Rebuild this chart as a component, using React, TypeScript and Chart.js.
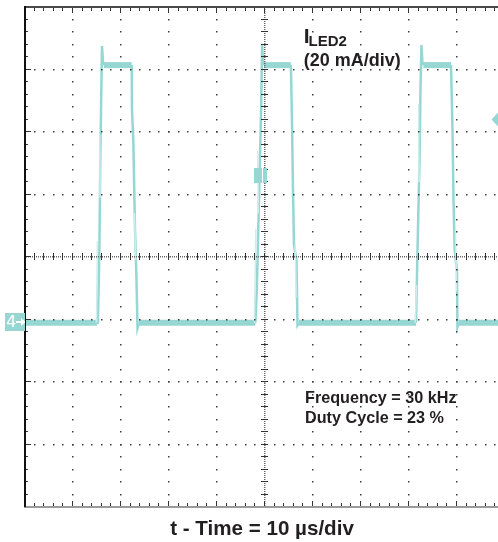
import React, { useEffect, useRef } from "react";
import { Chart, registerables } from "chart.js";
Chart.register(...registerables);

// Axes: 10 µs/div horizontally, 20 mA/div vertically (ground = 0 mA at marker "4")
const X_MIN = 0;
const X_MAX = 100;
const X_DIV = 10;
const Y_MIN = -59;
const Y_MAX = 101;
const Y_DIV = 20;
const TRIGGER_LEVEL_MA = 65;

// I_LED2 trace
const TIME_US = [
  0, 15.2, 15.4, 15.7, 15.9, 16.1, 16.25, 16.46, 16.67, 22.44,
  22.5, 22.77, 23.13, 23.44, 23.65, 23.96,
  48.2, 48.5, 48.96, 49.4, 49.6, 49.8, 50.0, 55.6,
  55.83, 56.04, 56.25, 56.77, 56.98, 57.29,
  81.67, 81.98, 82.4, 82.6, 82.8, 83.0, 83.2, 88.96,
  89.27, 89.48, 89.73, 90.2, 90.3, 90.6, 100,
];
const CURRENT_MA = [
  0, 0, 0, 23, 52, 74, 88.5, 83.4, 82.4, 82.4,
  68, 58.4, 29.6, 13.6, -1.7, 0,
  0, 10.4, 39.2, 68, 88.8, 83.4, 82.4, 82.4,
  64.8, 42.4, 24.8, 20, -0.8, 0,
  0, 23.2, 52, 74.4, 88.8, 83.4, 82.4, 82.4,
  61.6, 39.2, 23.2, 16.8, -1.4, 0, 0,
];

// faint persistence copies of the edges (µs, mA); null breaks the line
const GHOST_TIME_US = [15.1, 15.3, null, 15.8, 15.85, null, 48.0, 48.3, null, 48.7, 48.8, null, 81.5, 81.8, null, 82.2, 82.3, null, 23.0, 23.3, null, 56.5, 56.7, null, 89.9, 90.1];
const GHOST_CURRENT_MA = [0, 26, null, 60, 40, null, 0, 30, null, 55, 35, null, 0, 12, null, 70, 45, null, 35, 20, null, 25, 8, null, 30, 10];

const TRACE = "#96d6d3";
const GHOST = "#cdeeed";
const TEXT = "#231f20";

const scopeGrid = {
  id: "scopeGrid",
  afterDatasetsDraw(chart: any) {
    const { ctx, chartArea: a, scales } = chart;
    const xs = scales.x;
    const ys = scales.y;
    const xMaj: number[] = [];
    for (let v = X_MIN; v <= X_MAX + 1e-6; v += X_DIV) xMaj.push(xs.getPixelForValue(v));
    const yMaj: number[] = [];
    for (let v = Y_MAX; v >= Y_MIN - 1e-6; v -= Y_DIV) yMaj.push(ys.getPixelForValue(v));
    const nx = xMaj.length - 1;
    const ny = yMaj.length - 1;
    const dx = (xMaj[1] - xMaj[0]) / 5;
    const dy = (yMaj[1] - yMaj[0]) / 5;
    const cx = xMaj[nx / 2];
    const cy = yMaj[ny / 2];
    ctx.save();
    // dotted major lines
    ctx.fillStyle = "#3c3c3c";
    for (let i = 1; i < nx; i++) {
      if (i === nx / 2) continue;
      for (let k = 1; k < ny * 5; k++) ctx.fillRect(Math.round(xMaj[i]), Math.round(a.top + k * dy) - 1, 1.5, 1.5);
    }
    for (let j = 1; j < ny; j++) {
      if (j === ny / 2) continue;
      for (let k = 1; k < nx * 5; k++) ctx.fillRect(Math.round(a.left + k * dx), Math.round(yMaj[j]) - 1, 1.5, 1.5);
    }
    // centre lines
    ctx.fillStyle = "#666";
    for (let x = a.left; x < a.right; x += 2) ctx.fillRect(x, Math.round(cy) - 1, 1, 1.5);
    for (let y = a.top; y < a.bottom; y += 2) ctx.fillRect(Math.round(cx), y, 1.5, 1);
    ctx.fillStyle = "#333";
    for (let k = 1; k < nx * 5; k++) {
      const x = Math.round(a.left + k * dx);
      const major = k % 5 === 0;
      ctx.fillRect(x, Math.round(cy) - 4, 1, 7);
      ctx.fillRect(x, a.top, 1, major ? 6 : 4);
      ctx.fillRect(x, a.bottom - (major ? 6 : 4), 1, major ? 6 : 4);
    }
    for (let k = 1; k < ny * 5; k++) {
      const y = Math.round(a.top + k * dy);
      const major = k % 5 === 0;
      ctx.fillRect(Math.round(cx) - 3, y - 1, 7, 1);
      ctx.fillRect(a.left, y - 1, major ? 7 : 4, 1);
    }
    // borders
    ctx.fillStyle = "#4a4a4a";
    ctx.fillRect(a.left, a.top - 1, a.right - a.left, 2);
    ctx.fillStyle = "#9a9a9a";
    ctx.fillRect(a.left, a.bottom - 1, a.right - a.left, 2);
    ctx.fillStyle = "#111";
    ctx.fillRect(a.left, a.top - 1, 2, a.bottom - a.top + 1);
    // trigger position marker
    ctx.fillStyle = TRACE;
    ctx.fillRect(Math.round(cx) - 10, a.top + 161, 13, 15);
    ctx.fillStyle = "#ffffff";
    ctx.fillRect(Math.round(cx) - 2, a.top + 161, 1, 15);
    // trigger level marker
    const ty = ys.getPixelForValue(TRIGGER_LEVEL_MA);
    const tx = a.right - 6;
    ctx.fillStyle = TRACE;
    ctx.beginPath();
    ctx.moveTo(tx - 6.5, ty);
    ctx.lineTo(tx, ty - 7);
    ctx.lineTo(tx + 6.5, ty);
    ctx.lineTo(tx, ty + 7);
    ctx.closePath();
    ctx.fill();
    ctx.restore();
  },
};

const abs = (left: number, baseline: number, fs: number, extra: any = {}) => ({
  position: "absolute" as const,
  left,
  top: baseline - 0.8465 * fs,
  fontSize: fs,
  lineHeight: `${fs}px`,
  fontFamily: "'Liberation Sans', Arial, sans-serif",
  fontWeight: 700,
  color: TEXT,
  whiteSpace: "nowrap" as const,
  ...extra,
});

export default function App() {
  const ref = useRef<HTMLCanvasElement | null>(null);
  useEffect(() => {
    if (!ref.current) return;
    const data = TIME_US.map((t, i) => ({ x: t, y: CURRENT_MA[i] }));
    const ghost = GHOST_TIME_US.map((t, i) => ({ x: t as any, y: GHOST_CURRENT_MA[i] as any }));
    const chart = new Chart(ref.current, {
      type: "line",
      data: {
        datasets: [
          {
            data: ghost,
            borderColor: GHOST,
            borderWidth: 1.5,
            pointRadius: 0,
            tension: 0,
            spanGaps: false,
          } as any,
          {
            data,
            borderColor: TRACE,
            borderWidth: 2.5,
            pointRadius: 0,
            tension: 0,
            segment: {
              borderWidth: (c: any) =>
                Math.abs(c.p0.parsed.y - c.p1.parsed.y) < 0.5 && Math.abs(c.p1.parsed.x - c.p0.parsed.x) > 1 ? 6 : 2.5,
            },
          } as any,
        ],
      },
      options: {
        animation: false,
        responsive: false,
        devicePixelRatio: 1,
        layout: { padding: { left: 24, top: 7, right: 1, bottom: 35 } },
        plugins: { legend: { display: false }, tooltip: { enabled: false }, title: { display: false } },
        scales: {
          x: { type: "linear", min: X_MIN, max: X_MAX, display: false },
          y: { type: "linear", min: Y_MIN, max: Y_MAX, display: false },
        },
      },
      plugins: [scopeGrid],
    });
    return () => chart.destroy();
  }, []);

  return (
    <div style={{ position: "absolute", left: 0, top: 0, width: 498, height: 542, overflow: "hidden", background: "#fff" }}>
      <canvas ref={ref} width={505} height={542} style={{ position: "absolute", left: 0, top: 0, width: 505, height: 542 }} />
      <div style={abs(303.7, 43, 21)}>I</div>
      <div style={abs(308.6, 45.5, 15)}>LED2</div>
      <div style={abs(303.8, 66.7, 18)}>(20 mA/div)</div>
      <div style={abs(305, 403, 16.2)}>Frequency = 30 kHz</div>
      <div style={abs(305, 423, 16.2)}>Duty Cycle = 23 %</div>
      <div style={abs(262, 535.5, 20.6, { transform: "translateX(-50%)" })}>t - Time = 10 µs/div</div>
      <div
        style={{
          position: "absolute",
          left: 5,
          top: 313,
          width: 20,
          height: 18,
          background: TRACE,
          overflow: "hidden",
        }}
      >
        <span
          style={{
            position: "absolute",
            left: 1,
            top: 0,
            color: "#fff",
            fontFamily: "'DejaVu Sans', sans-serif",
            fontSize: 16,
            lineHeight: "18px",
          }}
        >
          4
        </span>
        <div style={{ position: "absolute", left: 11, top: 8, width: 6, height: 2, background: "#fff" }} />
        <div
          style={{
            position: "absolute",
            left: 16,
            top: 5,
            width: 0,
            height: 0,
            borderLeft: "5px solid #fff",
            borderTop: "4px solid transparent",
            borderBottom: "4px solid transparent",
          }}
        />
      </div>
    </div>
  );
}
